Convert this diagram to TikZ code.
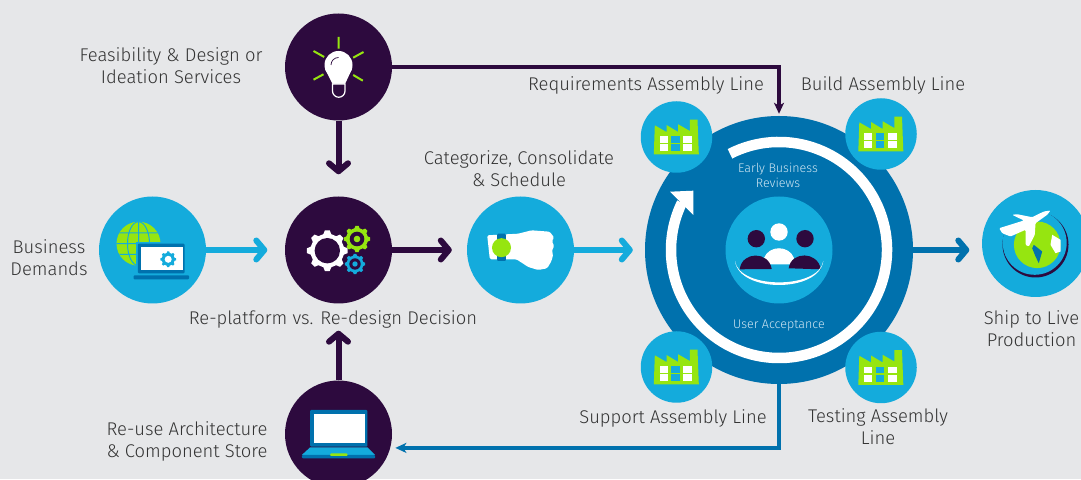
\documentclass[tikz,border=0pt]{standalone}
\usepackage{fontspec}
\setmainfont{Fira Sans}[UprightFont=* Light]
\usetikzlibrary{arrows.meta}
\definecolor{pagegrey}{HTML}{E6E7E9}
\definecolor{darkpurple}{HTML}{2D0A3E}
\definecolor{lightblue}{HTML}{14ABDC}
\definecolor{midblue}{HTML}{0071AD}
\definecolor{limegreen}{HTML}{96E510}
\definecolor{textdark}{HTML}{333333}
\definecolor{textpale}{HTML}{CFE6F3}
\tikzstyle{dark} = [circle, minimum size=107pt, inner sep=0pt, fill=darkpurple]
\tikzstyle{light} = [circle, minimum size=107pt, inner sep=0pt, fill=lightblue]
\tikzstyle{factory} = [circle, minimum size=71.5pt, inner sep=0pt, fill=lightblue]
\tikzstyle{hub} = [circle, minimum size=268pt, inner sep=0pt, fill=midblue]
\tikzstyle{caption} = [align=center, text=textdark, font=\fontsize{18.4}{22}\selectfont]
\tikzstyle{inside} = [align=center, text=textpale, font=\fontsize{12.5}{15}\selectfont]
\tikzstyle{chevron} = [line width=6pt, -{Straight Barb[length=8pt,width=19pt,round]}]
\tikzstyle{thinline} = [line width=4.5pt, -{Stealth[length=11pt,width=10pt,inset=3pt]}]
\newcommand{\gearicon}[5]{
  \pgfmathsetmacro{\gearstep}{360/#4}
  \begin{scope}[shift={(#1)}]
    \fill[#5] (0.3*\gearstep:#3) \foreach \i in {1,...,#4} {
      -- (\i*\gearstep-0.3*\gearstep:#3) -- (\i*\gearstep-0.15*\gearstep:#2)
      -- (\i*\gearstep+0.15*\gearstep:#2) -- (\i*\gearstep+0.3*\gearstep:#3)} -- cycle;
  \end{scope}
}
\newcommand{\factoryicon}[1]{
  \begin{scope}[shift={(#1)}]
    \fill[limegreen] (-22.7,-17.3) -- (-21.7,11.7) -- (-10,5) -- (-10,12) -- (1.7,5) -- (1.7,12.7)
      -- (13.3,6) -- (13.3,17.3) -- (21,17.3) -- (22.3,-17.3) -- cycle;
    \fill[white] (-16.7,0.7) rectangle (-8.7,-6);
    \fill[white] (-16.7,-7.3) rectangle (-8.7,-14.3);
    \fill[lightblue] (-5.3,0.7) rectangle (3.3,-6);
    \fill[lightblue] (-5.3,-7.3) rectangle (3.3,-14.3);
    \fill[white] (6.7,0.7) rectangle (15.7,-6);
    \fill[white] (6.7,-7.3) rectangle (15.7,-14.3);
  \end{scope}
}
\begin{document}
\begin{tikzpicture}[x=1pt, y=1pt, node distance=183pt]
  \useasboundingbox (0,0) rectangle (1081,479);
  \clip (0,0) rectangle (1081,479);
  \fill[pagegrey] (0,0) rectangle (1081,479);

  \node (biz) [light] at (152.5,229) {};
  \node (gears) [dark, right of=biz, xshift=3pt] {};
  \node (feas) [dark, above of=gears] {};
  \node (store) [dark, below of=gears, yshift=-1pt] {};
  \node (cat) [light, right of=gears, xshift=-1pt] {};
  \node (big) [hub, right of=cat, xshift=75.5pt] {};
  \node (ship) [light, right of=big, xshift=73.5pt, yshift=6.5pt] {};
  \node (reqfac) [factory, above of=big, xshift=-102.5pt, yshift=-70pt] {};
  \node (buildfac) [factory, above of=big, xshift=102pt, yshift=-67pt] {};
  \node (supfac) [factory, below of=big, xshift=-102.5pt, yshift=66pt] {};
  \node (testfac) [factory, below of=big, xshift=102pt, yshift=65.5pt] {};
  \node (meet) [light, at=(big)] {};

  \draw [chevron, lightblue, shorten >=17.5pt] (biz) -- (gears);
  \draw [chevron, darkpurple, shorten >=15pt] (gears) -- (cat);
  \draw [chevron, lightblue, shorten >=12pt] (cat) -- (big);
  \draw [chevron, midblue, shorten >=12.5pt] (big.east) -- (big.east -| ship.west);
  \draw [chevron, darkpurple, shorten >=22pt] (feas) -- (gears);
  \draw [chevron, darkpurple, shorten >=27pt] (store) -- (gears);
  \draw [thinline, darkpurple, shorten >=2pt] (feas.east) -| (big.north);
  \draw [thinline, midblue, shorten >=5pt] (big.south) |- (store.-15);

  \begin{scope}[shift={(big)}]
    \draw [white, line width=10.5pt] (117:108) arc[start angle=117, end angle=-206, radius=108];
    \fill [white] (-109,58.3) -- (-85.7,59.3) -- (-85.7,35) -- cycle;
  \end{scope}

  \factoryicon{reqfac}
  \factoryicon{buildfac}
  \factoryicon{supfac}
  \factoryicon{testfac}

  \begin{scope}[shift={(feas)}]
    \draw [limegreen, line width=2pt] (0,30) -- (0,18.3) (-25,16) -- (-14.3,10) (25,15) -- (14.7,9.3)
      (-25,-12.7) -- (-15,-7.3) (24.3,-13.7) -- (14.7,-8);
    \fill [white] (0,2) circle (14);
    \fill [white] (-13.5,-2) -- (-6,-17) -- (6.5,-17) -- (13.5,-2) -- cycle;
    \draw [white, line width=1.2pt, fill=darkpurple] (-6,-17) -- (-6,-24) arc[start angle=180, end angle=360, radius=6.25] -- (6.5,-17) -- cycle;
    \draw [darkpurple, line width=0.7pt] (-7.5,2) arc[start angle=180, end angle=90, radius=7.5];
  \end{scope}

  \begin{scope}[shift={(gears)}]
    \gearicon{-11.2,-0.7}{20.5}{17}{8}{white}
    \fill [darkpurple] (-11.2,-0.7) circle (12.7);
    \gearicon{18.5,11}{13.3}{11}{8}{limegreen}
    \fill [darkpurple] (18.5,11) circle (7.3);
    \fill [limegreen] (18.5,11) circle (3.3);
    \gearicon{16.5,-14}{10.3}{8.5}{8}{lightblue}
    \fill [darkpurple] (16.5,-14) circle (5.7);
    \fill [lightblue] (16.5,-14) circle (2.7);
  \end{scope}

  \begin{scope}[shift={(biz)}]
    \fill [limegreen] (-14,6.3) circle (22);
    \draw [lightblue, line width=1pt] (-14,6.3) ellipse (11 and 22) (-14,-15.7) -- (-14,28.3)
      (-36,6.3) -- (8,6.3) (-33,17) -- (5,17) (-33,-4.4) -- (5,-4.4);
    \fill [lightblue] (-16.7,8.3) rectangle (34,-25.3);
    \fill [midblue, rounded corners=1pt] (-14.7,6.3) rectangle (32,-23.3);
    \fill [white] (-11.3,3.3) rectangle (30,-20.3);
    \fill [midblue, rounded corners=1pt] (-19,-25.3) rectangle (36.7,-29.3);
    \gearicon{15.7,-9.3}{8}{6.5}{8}{lightblue}
    \fill [white] (15.7,-9.3) circle (3.5);
  \end{scope}

  \begin{scope}[shift={(cat)}]
    \fill [white, rounded corners=1.5pt] (-33.3,14.7) -- (-14,15.7) -- (-2.3,16.3) -- (11,19.7) -- (29.3,18.3) -- (33.7,12.3) -- (31.3,9) -- (33.7,4)
      -- (31.3,-1) -- (32.7,-4.3) -- (31,-11) -- (26.7,-18.3) -- (17.7,-20) -- (7.7,-17) -- (-4,-9.3) -- (-30.7,-9.3) -- cycle;
    \fill [midblue, rounded corners=1pt] (-23.3,16.3) rectangle (-14.7,-11);
    \fill [limegreen] (-19,2.3) circle (9.5);
  \end{scope}

  \begin{scope}[shift={(meet)}]
    \fill [white] (0,18) circle (8.7);
    \fill [white] (-15,-8) .. controls (-10,5) and (10,5) .. (15,-8) -- (12,-14.3) -- (-12,-14.3) -- cycle;
    \fill [darkpurple] (-22.7,11.3) circle (8.7);
    \fill [darkpurple] (26,11.3) circle (8.7);
    \fill [darkpurple] (-39.3,-19.3) .. controls (-37,-1) and (-10,-1) .. (-7.3,-19) -- cycle;
    \fill [darkpurple] (9.7,-18.3) .. controls (12,-1) and (39,-1) .. (41.7,-19.3) -- cycle;
    \fill [white] (-44,-11) .. controls (-40,-43) and (40,-43) .. (44.3,-11) .. controls (40,-39.5) and (-40,-39.5) .. (-44,-11) -- cycle;
  \end{scope}

  \begin{scope}[shift={(ship)}]
    \fill [darkpurple] (0,-1) circle (33);
    \fill [lightblue] (-0.8,0.7) circle (32);
    \fill [limegreen] (1.7,-1.3) circle (23.3);
    \fill [midblue] (-1.7,-1.3) -- (6.7,-8) -- (3.3,-19.7) -- (0,-13) -- (-3.3,-4.7) -- cycle;
    \fill [white] (16.7,8.7) -- (25,3.7) -- (25,-8) -- (20,-9.7) -- (15,-1.3) -- cycle;
    \fill [white, rounded corners=1pt] (15,33) -- (11.7,28.7) -- (0,20.3) -- (-0.7,8.7) -- (-6.7,-3) -- (-10,-1.3) -- (-10,13.7)
      -- (-25,7) -- (-33.3,10.3) -- (-36.3,15.3) -- (-11.7,23) -- (-23.3,28.7) -- (-18.3,29.3) -- (-3.3,26.3) -- (8.3,32) -- cycle;
  \end{scope}

  \begin{scope}[shift={(store)}]
    \fill [midblue, rounded corners=1pt] (-28.3,24) rectangle (28.9,-12.7);
    \fill [white] (-25,19.7) rectangle (26,-8.7);
    \fill [lightblue] (-28.3,-13.3) -- (29,-13.3) -- (36.7,-21) -- (-36.7,-21) -- cycle;
    \fill [midblue, rounded corners=1pt] (-36.7,-21) rectangle (36.7,-24.3);
    \fill [limegreen, rounded corners=1pt] (-8.3,-19.3) rectangle (9,-22);
  \end{scope}

  \node (feaslabel) [caption, left of=feas, xshift=15.5pt, yshift=1pt] {Feasibility \& Design or\\Ideation Services};
  \node (catlabel) [caption, above of=cat, xshift=-1.5pt, yshift=-102pt] {Categorize, Consolidate\\\& Schedule};
  \node (reqlabel) [caption, above of=reqfac, xshift=-30.5pt, yshift=-131pt] {Requirements Assembly Line};
  \node (buildlabel) [caption, above of=buildfac, xshift=2pt, yshift=-134pt] {Build Assembly Line};
  \node (bizlabel) [caption, left of=biz, xshift=79.5pt, yshift=-7.5pt] {Business\\Demands};
  \node (gearslabel) [caption, below of=gears, xshift=-5.5pt, yshift=114pt] {Re-platform vs. Re-design Decision};
  \node (suplabel) [caption, below of=supfac, xshift=-3.5pt, yshift=132pt] {Support Assembly Line};
  \node (testlabel) [caption, below of=testfac, xshift=-3pt, yshift=123.5pt] {Testing Assembly\\Line};
  \node (shiplabel) [caption, below of=ship, xshift=-4pt, yshift=98pt] {Ship to Live\\Production};
  \node (storelabel) [caption, left of=store, xshift=31.5pt, yshift=-7pt] {Re-use Architecture\\\& Component Store};
  \node (earlylabel) [inside, above of=big, xshift=-1pt, yshift=-108.5pt] {Early Business\\Reviews};
  \node (uatlabel) [inside, below of=big, yshift=107pt] {User Acceptance};
\end{tikzpicture}
\end{document}
